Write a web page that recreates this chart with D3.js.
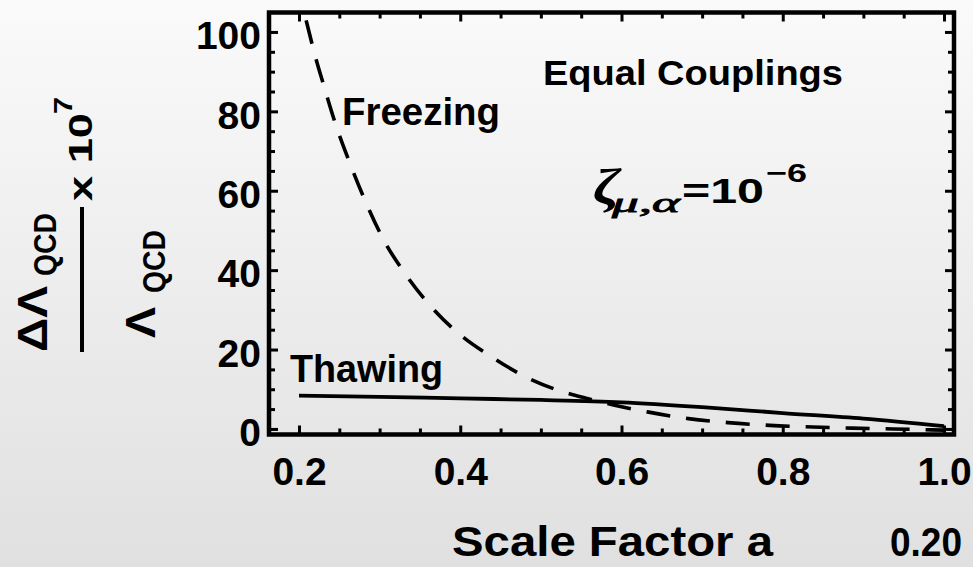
<!DOCTYPE html>
<html>
<head>
<meta charset="utf-8">
<script src="https://cdn.jsdelivr.net/npm/d3@7"></script>
<style>
  html, body { margin: 0; padding: 0; }
  body { width: 973px; height: 567px; overflow: hidden; }
  text { font-family: "Liberation Sans", Arial, Helvetica, sans-serif; font-weight: bold; fill: #000; }
</style>
</head>
<body>
<script>
// ---- data ----
const freezeA = [0.200, 0.210, 0.220, 0.230, 0.245, 0.263, 0.282, 0.304, 0.332, 0.363, 0.400, 0.441, 0.484, 0.533, 0.555, 0.600, 0.632, 0.683, 0.732, 0.784, 0.837, 0.886, 0.937, 1.000];
const freezeV = [110, 102, 94, 87, 77, 67, 57.5, 48, 39, 31, 23.7, 17.9, 12.8, 9.0, 7.8, 5.6, 4.3, 2.6, 1.6, 0.9, 0.5, 0.2, 0.0, -0.3];
const thawA = [0.2, 0.3, 0.4, 0.5, 0.6, 0.7, 0.8, 0.9, 1.0];
const thawV = [8.4, 8.1, 7.7, 7.3, 6.7, 5.5, 4.0, 2.6, 0.7];
const xTicks = [0.2, 0.4, 0.6, 0.8, 1.0];
const xTickLabels = ["0.2", "0.4", "0.6", "0.8", "1.0"];
const yTicks = [0, 20, 40, 60, 80, 100];
const yTickLabels = ["0", "20", "40", "60", "80", "100"];
const xMinor = [0.25, 0.3, 0.35, 0.45, 0.5, 0.55, 0.65, 0.7, 0.75, 0.85, 0.9, 0.95];
const yMinor = [5, 10, 15, 25, 30, 35, 45, 50, 55, 65, 70, 75, 85, 90, 95];

const W = 973, H = 567;
const svg = d3.select("body").append("svg").attr("width", W).attr("height", H);

// background gradient
const defs = svg.append("defs");
const grad = defs.append("linearGradient").attr("id", "bg").attr("x1", 0).attr("y1", 0).attr("x2", 0).attr("y2", 1);
grad.append("stop").attr("offset", "0%").attr("stop-color", "#fafafa");
grad.append("stop").attr("offset", "100%").attr("stop-color", "#e0e0e0");
svg.append("rect").attr("width", W).attr("height", H).attr("fill", "url(#bg)");

const box = {left: 269, right: 954, top: 12.5, bottom: 434.5};
const x = d3.scaleLinear().domain([0.1628, 1.0124]).range([box.left, box.right]);
const y = d3.scaleLinear().domain([-1.4, 104.9]).range([box.bottom, box.top]);

defs.append("clipPath").attr("id", "clip").append("rect")
  .attr("x", box.left).attr("y", box.top).attr("width", box.right - box.left).attr("height", box.bottom - box.top);

// curves
const line = d3.line().x(d => x(d[0])).y(d => y(d[1])).curve(d3.curveMonotoneX);
const gCurves = svg.append("g").attr("clip-path", "url(#clip)");
gCurves.append("path").datum(thawA.map((a, i) => [a, thawV[i]]))
  .attr("d", line).attr("fill", "none").attr("stroke", "#000").attr("stroke-width", 3.8);
gCurves.append("path").datum(freezeA.map((a, i) => [a, freezeV[i]]))
  .attr("d", line).attr("fill", "none").attr("stroke", "#000").attr("stroke-width", 3.6)
  .attr("stroke-dasharray", "24,16").attr("stroke-dashoffset", 11);

// axes (ticks inward on all four sides)
function styleAxis(g) {
  g.select(".domain").remove();
  g.selectAll(".tick line").attr("stroke", "#000").attr("stroke-width", 3);
}
const majLen = 9, minLen = 6;
svg.append("g").attr("transform", `translate(0,${box.bottom})`)
  .call(d3.axisBottom(x).tickValues(xTicks).tickSize(-majLen).tickFormat((d, i) => xTickLabels[i]).tickPadding(20))
  .call(styleAxis)
  .call(g => g.selectAll("text").attr("font-size", 39).attr("font-family", "Liberation Sans, Arial, sans-serif").attr("font-weight", "bold").attr("fill", "#000").attr("dy", null).attr("y", 50.5));
svg.append("g").attr("transform", `translate(0,${box.bottom})`)
  .call(d3.axisBottom(x).tickValues(xMinor).tickSize(-minLen).tickFormat(""))
  .call(styleAxis);
svg.append("g").attr("transform", `translate(0,${box.top})`)
  .call(d3.axisTop(x).tickValues(xTicks).tickSize(-majLen).tickFormat(""))
  .call(styleAxis);
svg.append("g").attr("transform", `translate(0,${box.top})`)
  .call(d3.axisTop(x).tickValues(xMinor).tickSize(-minLen).tickFormat(""))
  .call(styleAxis);
svg.append("g").attr("transform", `translate(${box.left},0)`)
  .call(d3.axisLeft(y).tickValues(yTicks).tickSize(-majLen).tickFormat((d, i) => yTickLabels[i]).tickPadding(8))
  .call(styleAxis)
  .call(g => g.selectAll("text").attr("font-size", 39).attr("font-family", "Liberation Sans, Arial, sans-serif").attr("font-weight", "bold").attr("fill", "#000").attr("dy", "0.38em").attr("y", 2).attr("x", -8));
svg.append("g").attr("transform", `translate(${box.left},0)`)
  .call(d3.axisLeft(y).tickValues(yMinor).tickSize(-minLen).tickFormat(""))
  .call(styleAxis);
svg.append("g").attr("transform", `translate(${box.right},0)`)
  .call(d3.axisRight(y).tickValues(yTicks).tickSize(-majLen).tickFormat(""))
  .call(styleAxis);
svg.append("g").attr("transform", `translate(${box.right},0)`)
  .call(d3.axisRight(y).tickValues(yMinor).tickSize(-minLen).tickFormat(""))
  .call(styleAxis);

// frame
svg.append("rect").attr("x", box.left).attr("y", box.top)
  .attr("width", box.right - box.left).attr("height", box.bottom - box.top)
  .attr("fill", "none").attr("stroke", "#000").attr("stroke-width", 4.5);

// annotations
function txt(str, px, py, size, opts = {}) {
  const t = svg.append("text").attr("x", px).attr("y", py).attr("font-size", size).text(str);
  if (opts.len) t.attr("textLength", opts.len).attr("lengthAdjust", "spacingAndGlyphs");
  if (opts.family) t.style("font-family", opts.family);
  if (opts.italic) t.style("font-style", "italic");
  if (opts.weight) t.style("font-weight", opts.weight);
  if (opts.rot) t.attr("transform", `rotate(-90,${px},${py})`);
  return t;
}
txt("Equal Couplings", 543, 85, 35, {len: 300});
txt("Freezing", 342, 125, 38.5, {len: 158});
txt("Thawing", 290, 382, 38, {len: 153});

// zeta label
const serif = "'Liberation Serif', 'Times New Roman', serif";
txt("ζ", 593, 204, 50, {family: serif, italic: true, len: 27});
txt("μ,α", 612, 212, 27, {family: serif, italic: true, weight: "normal", len: 68}).style("stroke", "#000").style("stroke-width", 0.8);
txt("=10", 682, 203, 35, {len: 82});
txt("−6", 766, 182, 26, {len: 41});

// x-axis title and stray label at the right edge
txt("Scale Factor a", 452, 556, 42, {len: 321});
txt("0.20", 890, 556, 41, {len: 72});

// y-axis title (rotated fraction)
txt("ΔΛ", 47, 352, 42, {rot: true, len: 66});
txt("QCD", 56, 276, 31, {rot: true, len: 63});
txt("Λ", 155, 338, 42, {rot: true, len: 31});
txt("QCD", 165, 293, 31, {rot: true, len: 63});
txt("x 10", 92, 201, 33, {rot: true, len: 88});
txt("7", 72, 114, 26, {rot: true, len: 17});
svg.append("line").attr("x1", 82).attr("x2", 82).attr("y1", 207).attr("y2", 352)
  .attr("stroke", "#000").attr("stroke-width", 4);
</script>
</body>
</html>
